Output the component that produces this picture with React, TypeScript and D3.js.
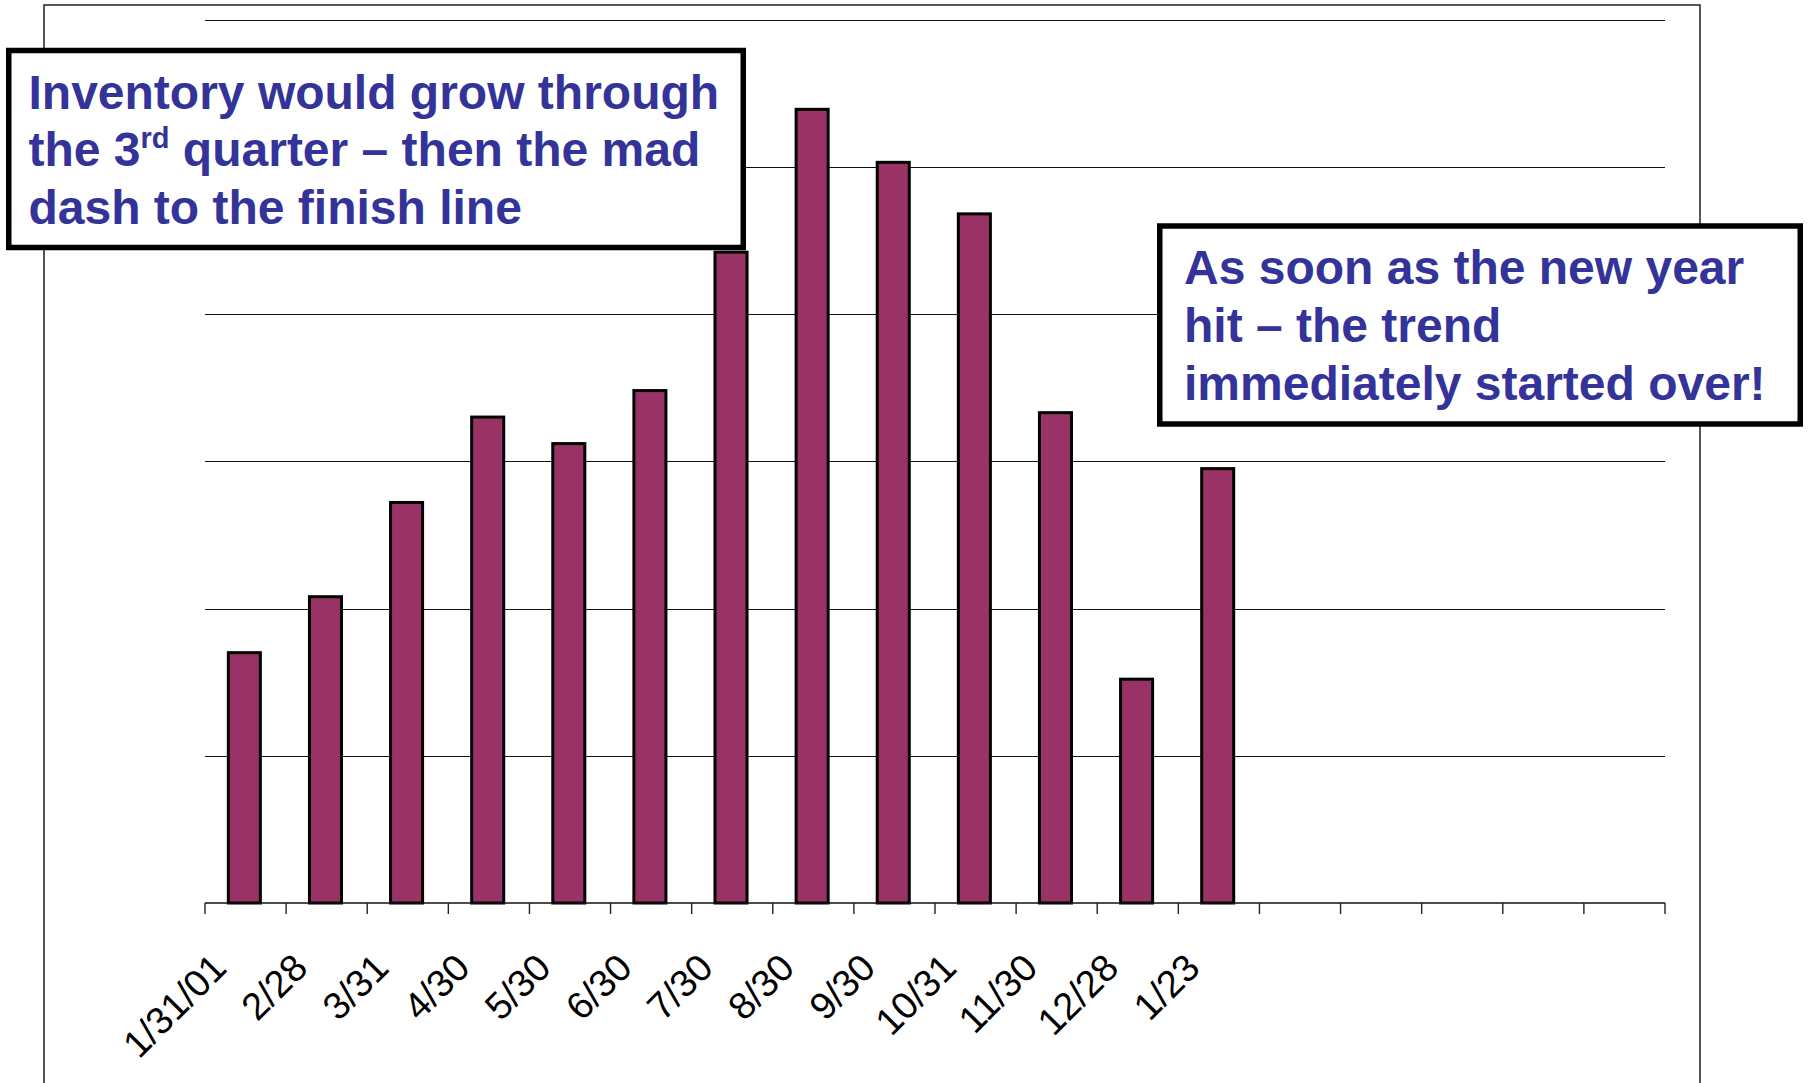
import React from "react";
import * as d3 from "d3";

// Month-end inventory readings
const dates = [
  "1/31/01", "2/28", "3/31", "4/30", "5/30", "6/30", "7/30",
  "8/30", "9/30", "10/31", "11/30", "12/28", "1/23",
];
const inventory = [170, 208, 272, 330, 312, 348, 442, 539, 503, 468, 333, 152, 295];

// The category axis keeps room for the rest of the second year
const slotCount = 18;

// Value axis (unlabelled); gridlines at these values
const yMax = 600;
const gridValues = [100, 200, 300, 400, 500, 600];

const noteLeft = ["Inventory would grow through", "the 3", "rd", " quarter \u2013 then the mad", "dash to the finish line"];
const noteRight = ["As soon as the new year", "hit \u2013 the trend", "immediately started over!"];

const W = 1809;
const H = 1083;
const FONT = "'Liberation Sans', Arial, Helvetica, sans-serif";
const BAR = "#993366";
const NOTE = "#333399";

export default function App() {
  const plot = { left: 205, right: 1665, top: 19.5, bottom: 903 };

  const x = d3
    .scaleBand<number>()
    .domain(d3.range(slotCount))
    .range([plot.left, plot.right])
    .padding(0);
  const bw = x.bandwidth();
  const barW = bw * 0.395;

  const y = d3.scaleLinear().domain([0, yMax]).range([plot.bottom, plot.top]);

  const tickXs = d3.range(slotCount + 1).map((i) => plot.left + i * x.step());

  return (
    <div style={{ position: "fixed", left: 0, top: 0, width: W, height: H, background: "#fff" }}>
      <svg width={W} height={H} style={{ display: "block" }} fontFamily={FONT}>
        <rect x={0} y={0} width={W} height={H} fill="#fff" />
        {/* chart frame */}
        <rect x={44} y={5} width={1656} height={1200} fill="none" stroke="#111" strokeWidth={1.4} />

        {/* gridlines */}
        {gridValues.map((v) => (
          <line
            key={v}
            x1={plot.left}
            x2={plot.right}
            y1={Math.round(y(v)) + 0.5}
            y2={Math.round(y(v)) + 0.5}
            stroke="#111"
            strokeWidth={1.1}
          />
        ))}

        {/* bars */}
        {inventory.map((v, i) => {
          const cx = (x(i) as number) + bw / 2 - 1.2;
          return (
            <rect
              key={i}
              x={cx - barW / 2}
              y={y(v)}
              width={barW}
              height={y(0) - y(v)}
              fill={BAR}
              stroke="#000"
              strokeWidth={3}
            />
          );
        })}

        {/* category axis */}
        <line x1={plot.left} x2={plot.right} y1={plot.bottom} y2={plot.bottom} stroke="#111" strokeWidth={1.6} />
        {tickXs.map((tx, i) => (
          <line key={i} x1={tx} x2={tx} y1={plot.bottom} y2={plot.bottom + 11} stroke="#222" strokeWidth={1.4} />
        ))}
        {dates.map((d, i) => {
          const cx = (x(i) as number) + bw / 2;
          return (
            <text
              key={d}
              transform={`translate(${cx - 17},${plot.bottom + 67}) rotate(-45)`}
              textAnchor="end"
              fontSize={38}
              fill="#000"
            >
              {d}
            </text>
          );
        })}

        {/* callout: left */}
        <rect x={8.75} y={50.5} width={734.5} height={197} fill="#fff" stroke="#000" strokeWidth={5.5} />
        <text fontSize={48} fontWeight="bold" fill={NOTE}>
          <tspan x={28.5} y={108.5}>{noteLeft[0]}</tspan>
          <tspan x={28.5} y={166}>{noteLeft[1]}</tspan>
          <tspan fontSize={29} dy={-18}>{noteLeft[2]}</tspan>
          <tspan dy={18}>{noteLeft[3]}</tspan>
          <tspan x={28.5} y={223.5}>{noteLeft[4]}</tspan>
        </text>

        {/* callout: right */}
        <rect x={1159.75} y={226} width={640.5} height={198} fill="#fff" stroke="#000" strokeWidth={5.5} />
        <text fontSize={48} fontWeight="bold" fill={NOTE}>
          {noteRight.map((line, i) => (
            <tspan key={i} x={1184} y={283.5 + i * 58.3}>
              {line}
            </tspan>
          ))}
        </text>
      </svg>
    </div>
  );
}
